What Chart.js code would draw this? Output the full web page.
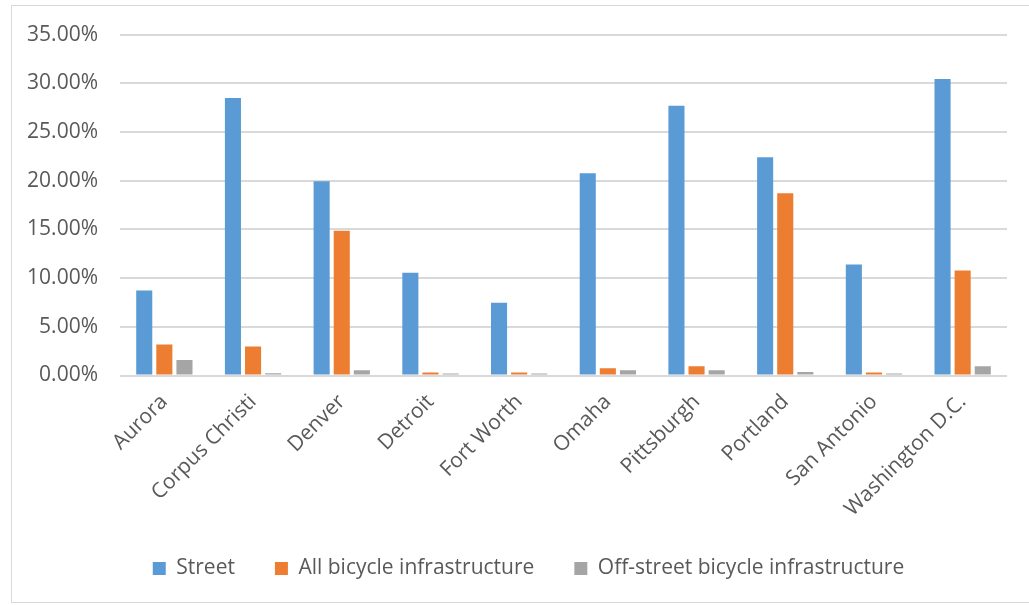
<!DOCTYPE html>
<html>
<head>
<meta charset="utf-8">
<script src="https://cdn.jsdelivr.net/npm/chart.js@4.4.1/dist/chart.umd.min.js"></script>
<style>
  html, body { margin: 0; padding: 0; background: #ffffff; }
  #wrap { position: relative; width: 1029px; height: 605px; }
  canvas { display: block; }
</style>
</head>
<body>
<div id="wrap"><canvas id="c" width="1029" height="605"></canvas></div>
<script>
const categories = ["Aurora", "Corpus Christi", "Denver", "Detroit", "Fort Worth", "Omaha", "Pittsburgh", "Portland", "San Antonio", "Washington D.C."];
const street = [0.0872, 0.2850, 0.1995, 0.1056, 0.0748, 0.2077, 0.2770, 0.2240, 0.1140, 0.3045];
const allBike = [0.0317, 0.0297, 0.1485, 0.0030, 0.0030, 0.0075, 0.0095, 0.1870, 0.0030, 0.1077];
const offStreet = [0.0158, 0.0022, 0.0055, 0.0020, 0.0020, 0.0055, 0.0055, 0.0035, 0.0020, 0.0095];
const seriesNames = ["Street", "All bicycle infrastructure", "Off-street bicycle infrastructure"];
const yTicks = [0, 0.05, 0.10, 0.15, 0.20, 0.25, 0.30, 0.35];

const textColor = "#595959";
const fontFamily = "'Open Sans', Lato, 'Liberation Sans', sans-serif";

const borderPlugin = {
  id: "outerBorder",
  beforeDraw(chart) {
    const ctx = chart.ctx;
    ctx.save();
    ctx.fillStyle = "#ffffff";
    ctx.fillRect(0, 0, chart.width, chart.height);
    ctx.strokeStyle = "#d9d9d9";
    ctx.lineWidth = 1;
    ctx.strokeRect(11.5, 5.5, chart.width + 10, chart.height - 8);
    ctx.restore();
  }
};

// Centre the legend under the chart the way the original does (slightly right of canvas centre)
const legendShift = {
  id: "legendShift",
  afterLayout(chart) {
    const lg = chart.legend;
    if (lg) { lg.left += 25; lg.right += 25; }
  }
};

new Chart(document.getElementById("c"), {
  type: "bar",
  data: {
    labels: categories,
    datasets: [
      { label: seriesNames[0], data: street, backgroundColor: "#5B9BD5" },
      { label: seriesNames[1], data: allBike, backgroundColor: "#ED7D31" },
      { label: seriesNames[2], data: offStreet, backgroundColor: "#A5A5A5" }
    ]
  },
  options: {
    responsive: false,
    animation: false,
    devicePixelRatio: 1,
    layout: { padding: { left: 0, right: 22, top: 34, bottom: 16 } },
    datasets: { bar: { categoryPercentage: 0.68, barPercentage: 0.8 } },
    plugins: {
      tooltip: { enabled: false },
      legend: {
        position: "bottom",
        labels: {
          boxWidth: 13,
          boxHeight: 13,
          padding: 40,
          color: textColor,
          font: { family: fontFamily, size: 21 }
        }
      }
    },
    scales: {
      x: {
        grid: { display: false, drawTicks: false },
        border: { display: false },
        ticks: {
          autoSkip: false,
          maxRotation: 45,
          minRotation: 45,
          padding: 14,
          color: textColor,
          font: { family: fontFamily, size: 21 }
        },
        afterFit(scale) { scale.height = 142.5; }
      },
      y: {
        min: 0,
        max: 0.35,
        afterBuildTicks(scale) { scale.ticks = yTicks.map(v => ({ value: v })); },
        grid: { color: "#d9d9d9", lineWidth: 2, drawTicks: false },
        border: { display: false },
        ticks: {
          padding: 22,
          color: textColor,
          font: { family: fontFamily, size: 21 },
          callback: (v) => (v * 100).toFixed(2) + "%"
        },
        afterFit(scale) { scale.width = 120; }
      }
    }
  },
  plugins: [borderPlugin, legendShift]
});
</script>
</body>
</html>
